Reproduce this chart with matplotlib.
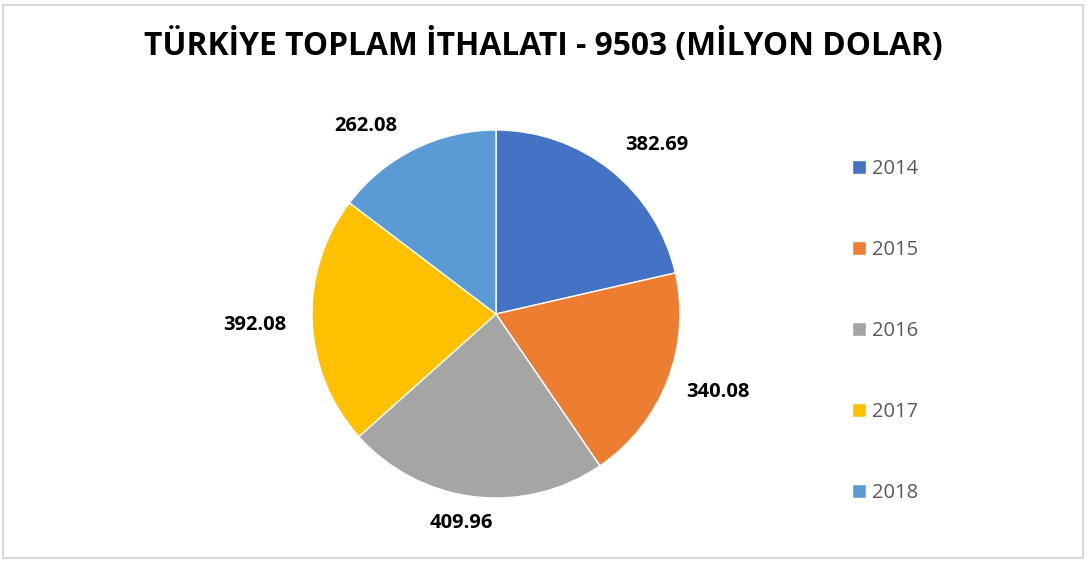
import numpy as np
import matplotlib.pyplot as plt
from matplotlib.patches import Rectangle

years = ['2014', '2015', '2016', '2017', '2018']
values = [382.69, 340.08, 409.96, 392.08, 262.08]
colors = ['#4472C4', '#ED7D31', '#A5A5A5', '#FFC000', '#5B9BD5']

# label placement (radius factor, angle tweak in degrees) - like Excel "best fit"
label_dist = [1.27, 1.28, 1.15, 1.31, 1.24]
label_turn = [-5, 2, -2.4, 0.3, 8.3]

W, H = 1087, 563
fig = plt.figure(figsize=(W / 100, H / 100), dpi=100)
fig.patch.set_facecolor('white')
fig.add_artist(Rectangle((3 / W, 5 / H), 1080 / W, 553 / H, transform=fig.transFigure,
                         fill=False, edgecolor='#D9D9D9', linewidth=1.5))

# pie centre (496, 314) px, radius 184 px
cx, cy, r = 496, H - 314, 184
ax = fig.add_axes([(cx - r) / W, (cy - r) / H, 2 * r / W, 2 * r / H])
wedges, texts = ax.pie(values, labels=[f'{v:.2f}' for v in values], colors=colors,
                       startangle=90, counterclock=False,
                       wedgeprops=dict(edgecolor='white', linewidth=1))
for w, t, d, turn in zip(wedges, texts, label_dist, label_turn):
    a = np.deg2rad((w.theta1 + w.theta2) / 2 + turn)
    t.set_position((d * np.cos(a), d * np.sin(a)))
    t.set_fontfamily('Open Sans')
    t.set_fontweight('bold')
    t.set_fontsize(14.5)
    t.set_ha('center')
    t.set_va('center')
    t.set_clip_on(False)
ax.set_xlim(-1, 1)
ax.set_ylim(-1, 1)

fig.text(0.5, (H - 46) / H, 'TÜRKİYE TOPLAM İTHALATI - 9503 (MİLYON DOLAR)',
         ha='center', va='center', fontsize=22.9, fontweight='bold', family='Open Sans')

leg = fig.legend(wedges, years, loc='center left', bbox_to_anchor=(834 / W, (H - 331) / H),
                 frameon=False, labelspacing=3.03, handlelength=0.7, handleheight=0.7,
                 handletextpad=0.3, prop={'family': 'Open Sans', 'size': 14.5})
for t in leg.get_texts():
    t.set_color('#595959')

fig.savefig('out.png', dpi=100)
